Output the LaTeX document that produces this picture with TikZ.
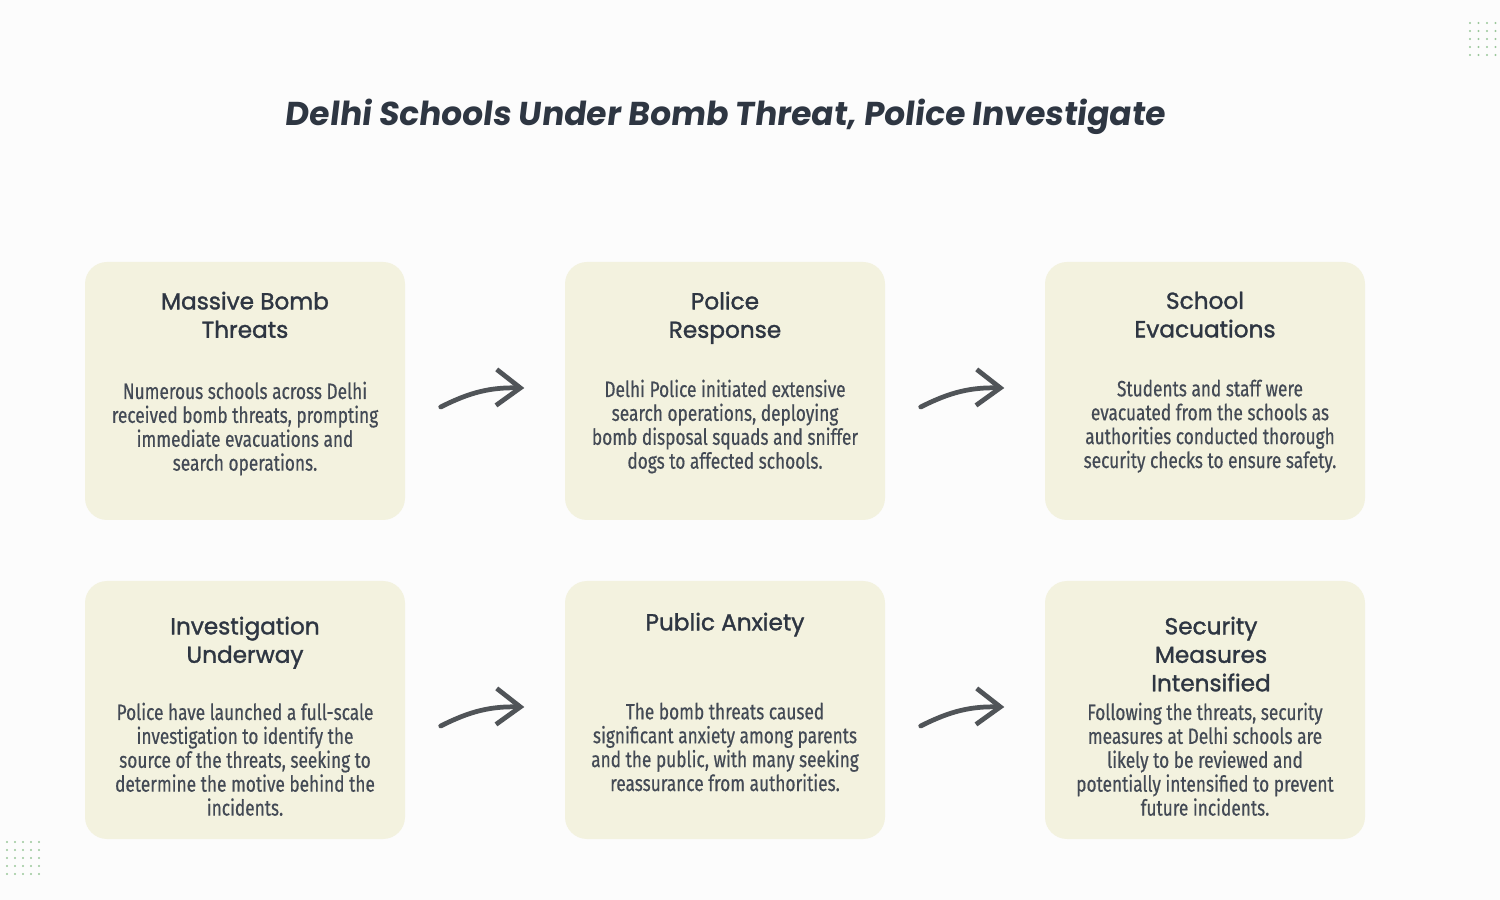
\documentclass[tikz,border=0pt]{standalone}
\usepackage{fontspec}
\setmainfont{Poppins}
\newfontfamily\bodyfont[FakeStretch=0.78,FakeBold=0.5]{Fira Sans}
\newfontfamily\headfont[FakeBold=1.4]{Poppins}
\newfontfamily\titlefont[FakeSlant=0.12]{Poppins}
\usetikzlibrary{positioning,arrows.meta}
\definecolor{boxfill}{HTML}{F3F2DF}
\definecolor{inkdark}{HTML}{2E3642}
\definecolor{arrowgray}{HTML}{505458}
\definecolor{dotgreen}{HTML}{9BC79B}
\tikzset{
  stagebox/.style={draw=none, fill=boxfill, rounded corners=0.22cm, minimum width=3.2cm, minimum height=2.58cm},
  headtext/.style={anchor=north, align=center, text=inkdark, font=\headfont\fontsize{6.6}{8.1}\selectfont},
  bodytext/.style={anchor=north, align=center, text=inkdark!90, font=\bodyfont\fontsize{6.3}{6.8}\selectfont},
  flowarrow/.style={draw=arrowgray, line width=1.35pt, line cap=round, -{Straight Barb[length=2.4mm,width=3.6mm]}}
}
\begin{document}
\begin{tikzpicture}
  \fill[white!98!gray] (0,0) rectangle (15,9);
  \useasboundingbox (0,0) rectangle (15,9);

  % title
  \node (title) at (7.25,7.83) {\titlefont\fontsize{9.4}{11}\selectfont\bfseries\color{inkdark}Delhi Schools Under Bomb Threat, Police Investigate};

  % boxes
  \node[stagebox] (b1) at (2.45,5.09) {};
  \node[stagebox] (b2) at (7.25,5.09) {};
  \node[stagebox] (b3) at (12.05,5.09) {};
  \node[stagebox] (b4) at (2.45,1.9) {};
  \node[stagebox] (b5) at (7.25,1.9) {};
  \node[stagebox] (b6) at (12.05,1.9) {};

  % headings
  \node[headtext] (h1) at ([yshift=-0.18cm]b1.north) {Massive Bomb\\Threats};
  \node[headtext] (h2) at ([yshift=-0.18cm]b2.north) {Police\\Response};
  \node[headtext] (h3) at ([yshift=-0.18cm]b3.north) {School\\Evacuations};
  \node[headtext] (h4) at ([yshift=-0.24cm]b4.north) {Investigation\\Underway};
  \node[headtext] (h5) at ([yshift=-0.2cm]b5.north) {Public Anxiety};
  \node[headtext] (h6) at ([yshift=-0.24cm,xshift=0.06cm]b6.north) {Security\\Measures\\Intensified};

  % descriptions
  \node[bodytext] (t1) at ([yshift=-1.08cm]b1.north) {Numerous schools across Delhi\\received bomb threats, prompting\\immediate evacuations and\\search operations.};
  \node[bodytext] (t2) at ([yshift=-1.06cm]b2.north) {Delhi Police initiated extensive\\search operations, deploying\\bomb disposal squads and sniffer\\dogs to affected schools.};
  \node[bodytext] (t3) at ([yshift=-1.06cm,xshift=0.05cm]b3.north) {Students and staff were\\evacuated from the schools as\\authorities conducted thorough\\security checks to ensure safety.};
  \node[bodytext] (t4) at ([yshift=-1.1cm]b4.north) {Police have launched a full-scale\\investigation to identify the\\source of the threats, seeking to\\determine the motive behind the\\incidents.};
  \node[bodytext] (t5) at ([yshift=-1.1cm]b5.north) {The bomb threats caused\\significant anxiety among parents\\and the public, with many seeking\\reassurance from authorities.};
  \node[bodytext] (t6) at ([yshift=-1.1cm]b6.north) {Following the threats, security\\measures at Delhi schools are\\likely to be reviewed and\\potentially intensified to prevent\\future incidents.};

  % arrows
  \foreach \a/\b in {b1/b2, b2/b3, b4/b5, b5/b6}
    \draw[flowarrow] ([xshift=0.35cm,yshift=-0.16cm]\a.east) to[bend left=14] ([xshift=-0.4cm,yshift=0.03cm]\b.west);

  % corner dots
  \foreach \i in {0,...,3}
    \foreach \j in {0,...,4}
      \fill[dotgreen] (14.7+\i*0.085, 8.77-\j*0.08) circle (0.012);
  \foreach \i in {0,...,4}
    \foreach \j in {0,...,4}
      \fill[dotgreen] (0.07+\i*0.08, 0.58-\j*0.08) circle (0.012);
\end{tikzpicture}
\end{document}
